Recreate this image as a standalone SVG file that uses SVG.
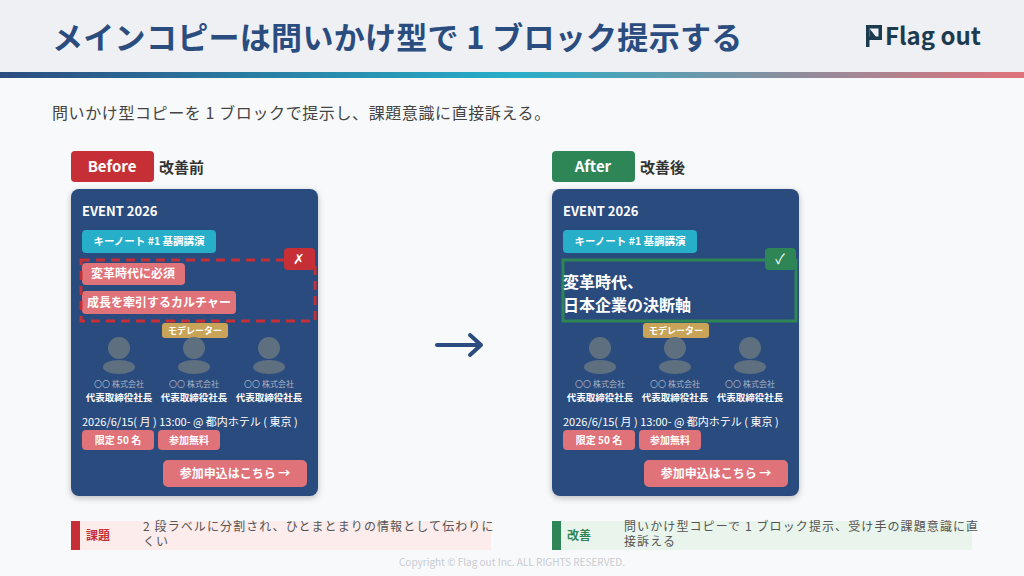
<svg xmlns="http://www.w3.org/2000/svg" width="1024" height="576" viewBox="0 0 1024 576">
<defs>
<linearGradient id="g" x1="0" x2="1"><stop offset="0" stop-color="#2b4c7e"/><stop offset="0.5" stop-color="#27aec8"/><stop offset="1" stop-color="#e0727a"/></linearGradient>
<filter id="sh" x="-10%" y="-10%" width="120%" height="120%"><feDropShadow dx="0" dy="2" stdDeviation="3" flood-opacity="0.25"/></filter>
</defs>
<style>
text{font-family:"Noto Sans CJK JP","Noto Sans",sans-serif}
.w{fill:#fff}.b{font-weight:bold}
.c{text-anchor:middle}
.card{fill:#2b4c7e}
.kn{fill:#27aec8}.pk{fill:#e0727a}.md{fill:#c9a458}.av{fill:#5e6f80}
.co{fill:#aab4c4;font-size:8px}
.ti{fill:#fff;font-size:9.5px;font-weight:bold}
.nt{font-size:12px;fill:#555;letter-spacing:1.1px}
</style>
<rect width="1024" height="576" fill="#f8f9fb"/>
<rect width="1024" height="72" fill="#eef0f4"/>
<rect y="72" width="1024" height="6" fill="url(#g)"/>
<text x="52" y="49" font-size="31" font-weight="bold" fill="#2b4c7e" letter-spacing="0.3">メインコピーは問いかけ型で 1 ブロック提示する</text>
<g id="logo"><path d="M866 25 L866 47 L869.5 47 L869.5 40 L882 40 L882 25 Z" fill="#1d3b4f"/><path d="M869.5 28.5 L878.5 28.5 L878.5 36.5 L869.5 36.5 Z" fill="#eef0f4"/><path d="M869.5 28.5 L878.5 40 L869.5 40 Z" fill="#1d3b4f"/>
<text x="885" y="45" font-size="24" font-weight="bold" fill="#1d3b4f" font-family="Lato,sans-serif">Flag out</text></g>
<text x="52" y="119" font-size="16" fill="#444" letter-spacing="0.6">問いかけ型コピーを 1 ブロックで提示し、課題意識に直接訴える。</text>

<g id="before-label"><rect x="71" y="151" width="83" height="31" rx="4" fill="#c62f35"/><text x="112" y="172" class="w b c" font-size="15">Before</text><text x="159" y="173" font-size="15" font-weight="bold" fill="#333">改善前</text></g>
<g id="after-label"><rect x="552" y="151" width="83" height="31" rx="4" fill="#2e8555"/><text x="593" y="172" class="w b c" font-size="15">After</text><text x="640" y="173" font-size="15" font-weight="bold" fill="#333">改善後</text></g>

<g id="before-card">
<rect x="71" y="189" width="247" height="307" rx="8" class="card" filter="url(#sh)"/>
<text x="82" y="216" class="w b" font-size="13">EVENT 2026</text>
<rect x="82" y="230" width="134" height="23" rx="4" class="kn"/><text x="149" y="245" class="w b c" font-size="10.5">キーノート #1 基調講演</text>
<rect x="82" y="263" width="103" height="22" rx="4" class="pk"/><text x="133" y="278" class="w b c" font-size="12">変革時代に必須</text>
<rect x="82" y="291" width="154" height="23" rx="4" class="pk"/><text x="159" y="307" class="w b c" font-size="12">成長を牽引するカルチャー</text>
<rect x="81" y="260" width="234" height="61" fill="none" stroke="#c62f35" stroke-width="3" stroke-dasharray="9 6"/>
<rect x="284" y="248" width="31" height="22" rx="4" fill="#c62f35"/><text x="299" y="264" class="w c" font-size="14">✗</text>
<rect x="162" y="323" width="66" height="15" rx="3" class="md"/><text x="195" y="334" class="w b c" font-size="9">モデレーター</text>
<g class="av"><circle cx="119" cy="348" r="11"/><ellipse cx="119" cy="367" rx="16" ry="7"/><circle cx="194" cy="348" r="11"/><ellipse cx="194" cy="367" rx="16" ry="7"/><circle cx="269" cy="348" r="11"/><ellipse cx="269" cy="367" rx="16" ry="7"/></g>
<text x="119" y="387" class="co c">〇〇 株式会社</text><text x="194" y="387" class="co c">〇〇 株式会社</text><text x="269" y="387" class="co c">〇〇 株式会社</text>
<text x="119" y="401" class="ti c">代表取締役社長</text><text x="194" y="401" class="ti c">代表取締役社長</text><text x="269" y="401" class="ti c">代表取締役社長</text>
<text x="82" y="426" class="w" font-size="11">2026/6/15( 月 ) 13:00- @ 都内ホテル ( 東京 )</text>
<rect x="82" y="430" width="72" height="20" rx="4" class="pk"/><text x="118" y="444" class="w b c" font-size="10">限定 50 名</text>
<rect x="158" y="430" width="62" height="20" rx="4" class="pk"/><text x="189" y="444" class="w b c" font-size="10">参加無料</text>
<rect x="163" y="460" width="144" height="27" rx="5" class="pk"/><text x="235" y="478" class="w b c" font-size="12">参加申込はこちら →</text>
</g>

<g id="after-card">
<rect x="552" y="189" width="247" height="307" rx="8" class="card" filter="url(#sh)"/>
<text x="563" y="216" class="w b" font-size="13">EVENT 2026</text>
<rect x="563" y="230" width="134" height="23" rx="4" class="kn"/><text x="630" y="245" class="w b c" font-size="10.5">キーノート #1 基調講演</text>
<rect x="563" y="260" width="233" height="61" fill="none" stroke="#2e8555" stroke-width="3"/>
<rect x="765" y="248" width="31" height="22" rx="4" fill="#2e8555"/><text x="780" y="264" class="w c" font-size="14">✓</text>
<text x="563" y="288" class="w b" font-size="16">変革時代、</text>
<text x="563" y="311" class="w b" font-size="16">日本企業の決断軸</text>
<rect x="643" y="323" width="66" height="15" rx="3" class="md"/><text x="676" y="334" class="w b c" font-size="9">モデレーター</text>
<g class="av"><circle cx="600" cy="348" r="11"/><ellipse cx="600" cy="367" rx="16" ry="7"/><circle cx="675" cy="348" r="11"/><ellipse cx="675" cy="367" rx="16" ry="7"/><circle cx="750" cy="348" r="11"/><ellipse cx="750" cy="367" rx="16" ry="7"/></g>
<text x="600" y="387" class="co c">〇〇 株式会社</text><text x="675" y="387" class="co c">〇〇 株式会社</text><text x="750" y="387" class="co c">〇〇 株式会社</text>
<text x="600" y="401" class="ti c">代表取締役社長</text><text x="675" y="401" class="ti c">代表取締役社長</text><text x="750" y="401" class="ti c">代表取締役社長</text>
<text x="563" y="426" class="w" font-size="11">2026/6/15( 月 ) 13:00- @ 都内ホテル ( 東京 )</text>
<rect x="563" y="430" width="72" height="20" rx="4" class="pk"/><text x="599" y="444" class="w b c" font-size="10">限定 50 名</text>
<rect x="639" y="430" width="62" height="20" rx="4" class="pk"/><text x="670" y="444" class="w b c" font-size="10">参加無料</text>
<rect x="644" y="460" width="144" height="27" rx="5" class="pk"/><text x="716" y="478" class="w b c" font-size="12">参加申込はこちら →</text>
</g>

<g id="connectors"><path d="M437 345 H480 M470 335 L481 345 L470 355" fill="none" stroke="#2b4c7e" stroke-width="4" stroke-linecap="round" stroke-linejoin="round"/></g>

<g id="note-before"><rect x="71" y="521" width="420" height="29" fill="#fdecec"/><rect x="71" y="521" width="9" height="29" fill="#c62f35"/>
<text x="86" y="540" font-size="12" font-weight="bold" fill="#c62f35">課題</text>
<text x="143" y="531" class="nt">2 段ラベルに分割され、ひとまとまりの情報として伝わりに</text><text x="143" y="546" class="nt">くい</text></g>
<g id="note-after"><rect x="552" y="521" width="420" height="29" fill="#e8f4ec"/><rect x="552" y="521" width="9" height="29" fill="#2e8555"/>
<text x="567" y="540" font-size="12" font-weight="bold" fill="#2e8555">改善</text>
<text x="624" y="531" class="nt">問いかけ型コピーで 1 ブロック提示、受け手の課題意識に直</text><text x="624" y="546" class="nt">接訴える</text></g>
<text x="512" y="566" class="c" font-size="10" fill="#c8ccd2">Copyright © Flag out Inc. ALL RIGHTS RESERVED.</text>
</svg>
